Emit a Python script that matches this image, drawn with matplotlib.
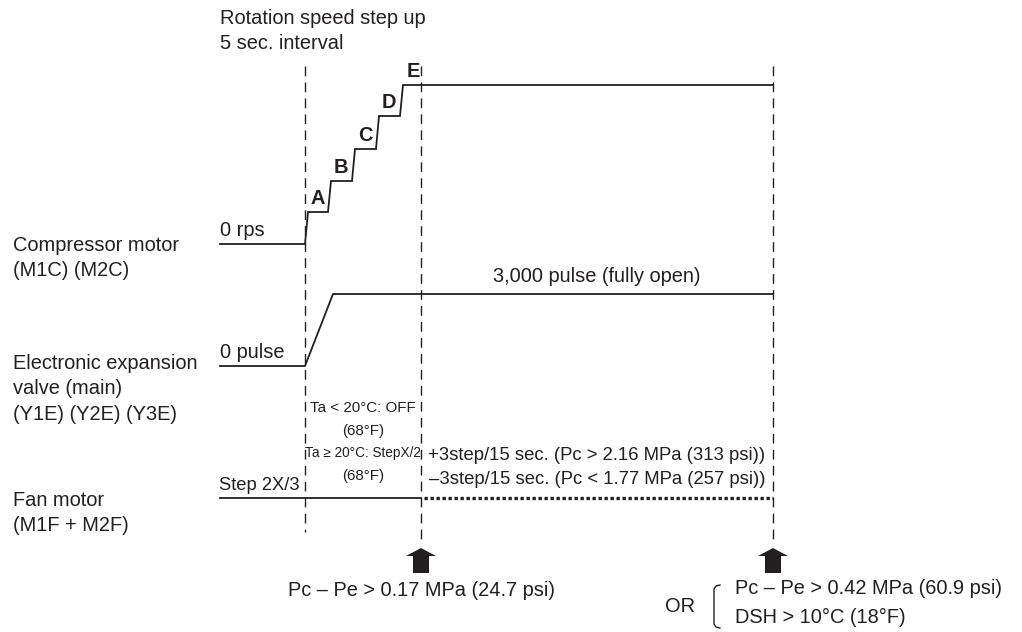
"""Start-up control timing diagram (compressor / EEV / fan)."""
import matplotlib
matplotlib.use('Agg')
import matplotlib.pyplot as plt
from matplotlib.patches import FancyArrow

BLACK = '#231F20'
plt.rcParams['font.family'] = ['Liberation Sans', 'DejaVu Sans']

# timing marks (px along time axis)
t_start = 305
t_end_step = 421
t_end = 773
t_label = 220

# compressor step-up: step labels, rise time, level reached
step_labels = ['A', 'B', 'C', 'D', 'E']
step_rise = [305, 328, 352, 376, 400]
step_level = [212, 181, 149, 116, 85]
comp_zero = 244

# electronic expansion valve
eev_zero = 366
eev_open = 294
eev_open_at = 333

# fan
fan_level = 498

row_labels = [
    ("Compressor motor\n(M1C) (M2C)", 258),
    ("Electronic expansion\nvalve (main)\n(Y1E) (Y2E) (Y3E)", 389),
    ("Fan motor\n(M1F + M2F)", 513),
]

fig = plt.figure(figsize=(10.22, 6.32), dpi=100, facecolor='white')
ax = fig.add_axes([0, 0, 1, 1])
ax.set_xlim(0, 1022)
ax.set_ylim(632, 0)
ax.axis('off')

FS = 14.4
LW = 1.3

# dashed time markers
for x, y1 in [(t_start, 532), (t_end_step, 540), (t_end, 542)]:
    ax.plot([x, x], [66, y1], color=BLACK, lw=1.0, ls=(0, (7, 4.5)))

# compressor trace
xs = [t_label, t_start]
ys = [comp_zero, comp_zero]
for i, lvl in enumerate(step_level):
    nxt = step_rise[i + 1] if i + 1 < len(step_rise) else t_end
    xs += [step_rise[i] + 3, nxt]
    ys += [lvl, lvl]
ax.plot(xs, ys, color=BLACK, lw=LW, solid_joinstyle='miter')
for lab, x, lvl in zip(step_labels, step_rise, step_level):
    ax.text(x + 13, lvl - 4, lab, ha='center', va='bottom', fontsize=FS,
            fontweight='bold', color=BLACK)

ax.text(t_label, 230, "0 rps", ha='left', va='center', fontsize=FS, color=BLACK)
ax.text(t_label, 31, "Rotation speed step up\n5 sec. interval", ha='left',
        va='center', fontsize=FS, color=BLACK, linespacing=1.4)

# EEV trace
ax.plot([t_label, t_start, eev_open_at, t_end], [eev_zero, eev_zero, eev_open, eev_open],
        color=BLACK, lw=LW)
ax.text(t_label, 352, "0 pulse", ha='left', va='center', fontsize=FS, color=BLACK)
ax.text(597, 277, "3,000 pulse (fully open)", ha='center', va='center',
        fontsize=FS, color=BLACK)

# fan trace
ax.plot([t_label, t_end_step], [fan_level, fan_level], color=BLACK, lw=LW)
ax.plot([t_end_step + 3, t_end], [fan_level, fan_level], color=BLACK, lw=2.4,
        ls=(0, (1.0, 0.8)), dash_capstyle='butt')
ax.text(t_label - 1, 485, "Step 2X/3", ha='left', va='center', fontsize=13.2, color=BLACK)

cond = [("Ta < 20°C: OFF", 408, 10.9), ("(68°F)", 431, 10.9),
        ("Ta ≥ 20°C: StepX/2", 453, 9.8), ("(68°F)", 476, 10.9)]
for s, y, fs in cond:
    ax.text(363, y, s, ha='center', va='center', fontsize=fs, color=BLACK)
ax.text(597, 455, "+3step/15 sec. (Pc > 2.16 MPa (313 psi))", ha='center', va='center',
        fontsize=13.3, color=BLACK)
ax.text(597, 480, "\u20133step/15 sec. (Pc < 1.77 MPa (257 psi))", ha='center', va='center',
        fontsize=13.3, color=BLACK)

# row labels
for s, y in row_labels:
    ax.text(13, y, s, ha='left', va='center', fontsize=FS, color=BLACK, linespacing=1.45)

# trigger arrows
for x in [t_end_step, t_end]:
    ax.add_patch(FancyArrow(x, 573, 0, -25, width=16, head_width=30, head_length=8,
                            length_includes_head=True, color=BLACK, lw=0))

ax.text(t_end_step, 590, "Pc \u2013 Pe > 0.17 MPa (24.7 psi)", ha='center', va='center',
        fontsize=FS, color=BLACK)
ax.text(680, 606, "OR", ha='center', va='center', fontsize=FS, color=BLACK)
ax.plot([720, 716, 714, 714, 716, 720], [585, 586, 589, 624, 627, 628],
        color=BLACK, lw=1.0)
ax.text(735, 589, "Pc \u2013 Pe > 0.42 MPa (60.9 psi)", ha='left', va='center',
        fontsize=FS, color=BLACK)
ax.text(735, 617, "DSH > 10°C (18°F)", ha='left', va='center', fontsize=FS, color=BLACK)

fig.savefig("out.png", dpi=100, facecolor='white')
